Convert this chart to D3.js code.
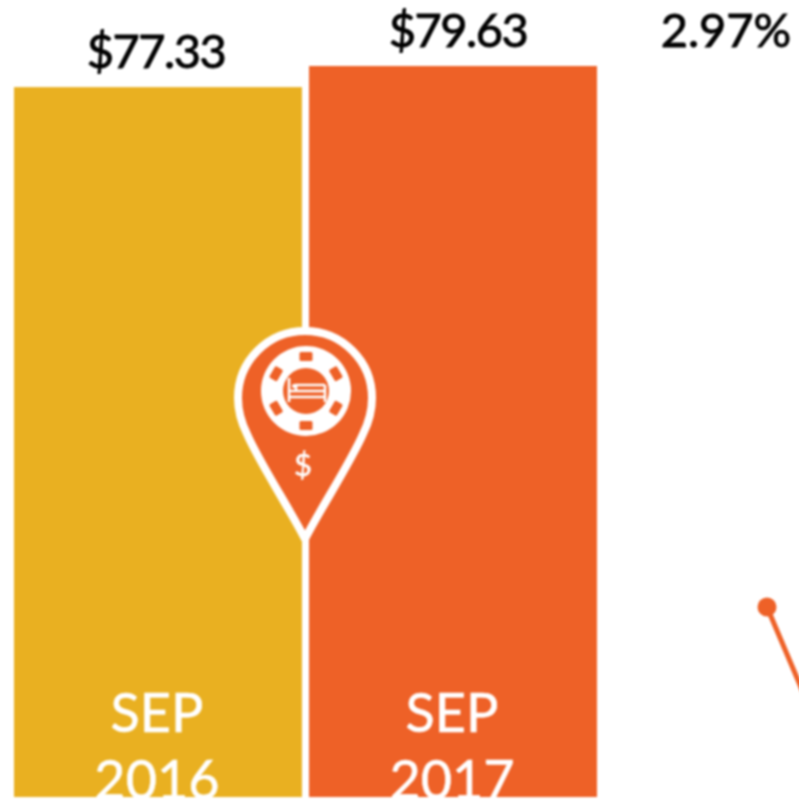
<!DOCTYPE html>
<html><head><meta charset="utf-8">
<script src="https://cdn.jsdelivr.net/npm/d3@7"></script>
<style>html,body{margin:0;padding:0;background:#fff;overflow:hidden}svg{display:block}text{font-family:Lato,sans-serif}</style>
</head><body><svg id="c" width="799" height="802"></svg>
<script>
const months = ["SEP", "SEP"];
const years = ["2016", "2017"];
const labels = ["$77.33", "$79.63"];
const values = [77.33, 79.63];
const colors = ["#E9B021", "#EE6127"];
const changeLabel = "2.97%";
const connectorX = [0, 1];
const connectorY = [0, 1];

const svg = d3.select("#c");
const defs = svg.append("defs");
defs.append("filter").attr("id","soft").attr("color-interpolation-filters","sRGB")
  .attr("filterUnits","userSpaceOnUse").attr("x",0).attr("y",0).attr("width",799).attr("height",802)
  .append("feGaussianBlur").attr("stdDeviation",0.9);
const root = svg.append("g").attr("filter","url(#soft)");

const x = d3.scaleBand().domain(d3.range(2)).range([14,597]).paddingInner(0.024).paddingOuter(0);
const y = d3.scaleLinear().domain([0,79.63]).range([797,66]);

root.selectAll("rect.bar").data(values).join("rect").attr("class","bar")
  .attr("x",(d,i)=>x(i)).attr("width",x.bandwidth())
  .attr("y",d=>y(d)).attr("height",d=>y(0)-y(d))
  .attr("fill",(d,i)=>colors[i]);

root.selectAll("text.val").data(labels).join("text").attr("class","val")
  .attr("x",(d,i)=>x(i)+x.bandwidth()/2+(i?5:-2)).attr("y",(d,i)=>y(values[i])-19)
  .attr("text-anchor","middle").attr("font-size",47).attr("letter-spacing",-1.5)
  .attr("fill","#000").attr("stroke","#000").attr("stroke-width",0.9).text(d=>d);

root.append("text").attr("x",726).attr("y",47).attr("text-anchor","middle")
  .attr("font-size",47).attr("fill","#000").attr("stroke","#000").attr("stroke-width",0.9).text(changeLabel);

root.selectAll("text.mon").data(months).join("text").attr("class","mon")
  .attr("x",(d,i)=>x(i)+x.bandwidth()/2-1).attr("y",732)
  .attr("text-anchor","middle").attr("font-size",54).attr("fill","#fff")
  .attr("stroke","#fff").attr("stroke-width",0.6).text(d=>d);
root.selectAll("text.yr").data(years).join("text").attr("class","yr")
  .attr("x",(d,i)=>x(i)+x.bandwidth()/2-1).attr("y",799)
  .attr("text-anchor","middle").attr("font-size",54).attr("fill","#fff")
  .attr("stroke","#fff").attr("stroke-width",0.6).text(d=>d);

// pin marker
const pin = root.append("g").attr("transform","translate(305,398)");
pin.append("path")
  .attr("d","M0,141 C-14,113 -46,64 -58,36 C-64,24 -67,11 -67,0 A67,67 0 1 1 67,0 C67,11 64,24 58,36 C46,64 14,113 0,141 Z")
  .attr("fill",colors[1]).attr("stroke","#fff").attr("stroke-width",8).attr("stroke-linejoin","round");
const chip = pin.append("g").attr("transform","translate(1,-7)");
chip.append("circle").attr("r",45).attr("fill","#fff");
chip.selectAll("rect").data(d3.range(6)).join("rect")
  .attr("x",-6.5).attr("y",-39).attr("width",13).attr("height",9).attr("rx",1.5)
  .attr("fill",colors[1]).attr("transform",i=>`rotate(${i*60})`);
chip.append("circle").attr("r",23).attr("fill",colors[1]);
const bed = chip.append("g").attr("fill","none").attr("stroke","#fff").attr("stroke-width",2.6);
bed.append("path").attr("d","M-17,-13 V11 M-17,6 H19 M19,-6 V11 M-17,0 H19 M-10,0 V-6 H19");
bed.append("circle").attr("cx",-12).attr("cy",-5).attr("r",2).attr("fill","#fff").attr("stroke","none");
pin.append("text").attr("x",-2).attr("y",78).attr("text-anchor","middle").attr("font-size",31).attr("fill","#fff")
  .attr("stroke","#fff").attr("stroke-width",0.5).text("$");

// connector
const cx = d3.scaleLinear().domain([0,1]).range([767,803]);
const cy = d3.scaleLinear().domain([0,1]).range([607,692]);
root.append("path").attr("d",d3.line().x(cx).y((d,i)=>cy(connectorY[i]))(connectorX))
  .attr("fill","none").attr("stroke",colors[1]).attr("stroke-width",5);
root.append("circle").attr("cx",cx(0)).attr("cy",cy(0)).attr("r",9.5).attr("fill",colors[1]);
</script></body></html>
